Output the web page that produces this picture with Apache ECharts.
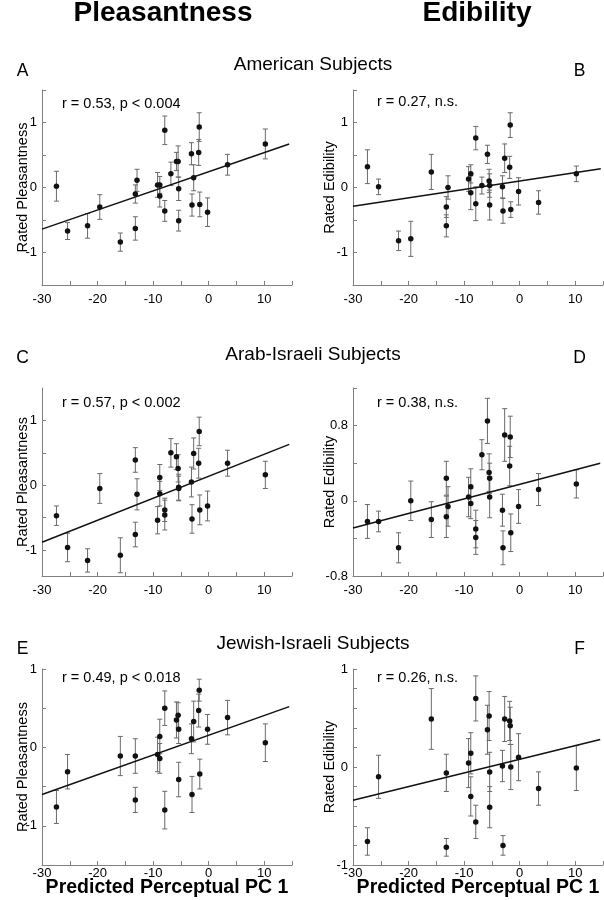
<!DOCTYPE html>
<html><head><meta charset="utf-8">
<script src="https://cdn.jsdelivr.net/npm/echarts@6/dist/echarts.min.js"></script>
<style>html,body{margin:0;padding:0;background:#fff}#c{width:604px;height:900px}</style>
</head><body><div id="c"></div>
<script>
// ---- data ----
const pc1 = [-27.4, -25.4, -21.8, -19.6, -15.9, -13.2, -13.2, -12.9, -9.2, -8.8, -8.8, -7.9, -7.9, -6.8, -5.8, -5.5, -5.4, -5.4, -3.1, -3.0, -2.7, -1.8, -1.7, -1.6, -0.2, 3.4, 10.2];

const pleasAmerican = [0.02, -0.67, -0.59, -0.30, -0.84, -0.63, -0.10, 0.11, 0.04, 0.04, -0.13, 0.88, -0.36, 0.21, 0.40, 0.40, -0.02, -0.51, 0.52, -0.27, 0.15, 0.54, 0.93, -0.26, -0.38, 0.35, 0.67];
const errPleasAmerican = [0.23, 0.13, 0.19, 0.19, 0.14, 0.18, 0.14, 0.17, 0.19, 0.13, 0.17, 0.22, 0.16, 0.18, 0.14, 0.24, 0.18, 0.16, 0.17, 0.17, 0.20, 0.20, 0.22, 0.19, 0.22, 0.16, 0.23];

const edibAmerican = [0.32, 0.01, -0.82, -0.79, 0.24, -0.59, -0.30, 0.00, 0.13, 0.21, -0.08, 0.76, -0.25, 0.03, 0.51, 0.10, 0.03, -0.27, 0.01, -0.36, 0.45, 0.31, 0.96, -0.34, -0.06, -0.23, 0.21];
const errEdibAmerican = [0.26, 0.12, 0.15, 0.27, 0.27, 0.17, 0.16, 0.18, 0.19, 0.14, 0.26, 0.18, 0.26, 0.13, 0.14, 0.18, 0.18, 0.23, 0.17, 0.19, 0.22, 0.17, 0.19, 0.12, 0.21, 0.18, 0.12];

const pleasArab = [-0.47, -0.96, -1.16, -0.05, -1.08, 0.39, -0.76, -0.14, -0.54, 0.12, -0.13, -0.38, -0.46, 0.50, 0.44, 0.26, -0.03, -0.05, 0.05, -0.52, 0.49, 0.34, 0.83, -0.38, -0.32, 0.34, 0.16];
const errPleasArab = [0.15, 0.22, 0.18, 0.23, 0.27, 0.19, 0.19, 0.24, 0.21, 0.20, 0.19, 0.18, 0.23, 0.22, 0.20, 0.21, 0.20, 0.19, 0.23, 0.22, 0.24, 0.23, 0.22, 0.23, 0.23, 0.20, 0.21];

const edibArab = [-0.22, -0.22, -0.50, 0.00, -0.20, 0.24, -0.17, -0.06, 0.04, -0.03, 0.15, -0.30, -0.39, 0.49, 0.85, 0.30, 0.24, 0.04, -0.10, -0.50, 0.70, 0.37, 0.68, -0.34, -0.06, 0.12, 0.18];
const errEdibArab = [0.18, 0.11, 0.16, 0.21, 0.19, 0.18, 0.22, 0.21, 0.21, 0.16, 0.19, 0.20, 0.18, 0.16, 0.24, 0.20, 0.16, 0.22, 0.17, 0.18, 0.28, 0.21, 0.22, 0.20, 0.18, 0.17, 0.15];

const pleasJewish = [-0.76, -0.31, null, null, -0.11, -0.67, -0.11, null, -0.09, 0.14, -0.14, 0.50, -0.80, null, 0.35, 0.41, 0.23, -0.41, 0.11, -0.60, 0.33, 0.47, 0.73, -0.34, 0.23, 0.38, 0.06];
const errPleasJewish = [0.21, 0.22, null, null, 0.25, 0.16, 0.22, null, 0.22, 0.22, 0.19, 0.22, 0.24, null, 0.23, 0.16, 0.18, 0.22, 0.19, 0.23, 0.26, 0.21, 0.14, 0.19, 0.19, 0.22, 0.24];

const edibJewish = [-0.76, -0.10, null, null, 0.49, -0.82, -0.06, null, 0.04, 0.14, -0.30, 0.70, -0.56, null, 0.38, 0.52, -0.05, -0.41, 0.01, -0.80, 0.49, 0.47, 0.42, 0.00, 0.10, -0.22, -0.01];
const errEdibJewish = [0.14, 0.22, null, null, 0.31, 0.09, 0.19, null, 0.25, 0.21, 0.20, 0.23, 0.17, null, 0.25, 0.25, 0.20, 0.21, 0.16, 0.10, 0.23, 0.20, 0.19, 0.23, 0.24, 0.17, 0.23];

// regression line end points [x, y]
const fitA = [[-30, -0.64], [14.5, 0.67]];
const fitB = [[-30, -0.29], [14.6, 0.29]];
const fitC = [[-30, -0.88], [14.5, 0.63]];
const fitD = [[-30, -0.29], [14.5, 0.40]];
const fitE = [[-30, -0.60], [14.5, 0.52]];
const fitF = [[-30, -0.34], [14.5, 0.28]];

const statsText = ['r = 0.53, p < 0.004', 'r = 0.27, n.s.', 'r = 0.57, p < 0.002', 'r = 0.38, n.s.', 'r = 0.49, p < 0.018', 'r = 0.26, n.s.'];
const panelLetters = ['A', 'B', 'C', 'D', 'E', 'F'];
const rowTitles = ['American Subjects', 'Arab-Israeli Subjects', 'Jewish-Israeli Subjects'];
const columnTitles = ['Pleasantness', 'Edibility'];
const yNames = ['Rated Pleasantness', 'Rated Edibility'];
const xName = 'Predicted Perceptual PC 1';

const xTicks = [-30, -25, -20, -15, -10, -5, 0, 5, 10, 15];
const xTickLabels = [-30, -20, -10, 0, 10];
const yTicksA = [-1.5, -1, -0.5, 0, 0.5, 1, 1.5], yLabelsA = [-1, 0, 1];
const yTicksC = [-1, -0.5, 0, 0.5, 1], yLabelsC = [-1, 0, 1];
const yTicksD = [-0.8, -0.4, 0, 0.4, 0.8, 1.2], yLabelsD = [-0.8, 0, 0.8];
const yTicksE = [-1.5, -1, -0.5, 0, 0.5, 1], yLabelsE = [-1, 0, 1];
const yTicksF = [-1, -0.8, -0.6, -0.4, -0.2, 0, 0.2, 0.4, 0.6, 0.8, 1], yLabelsF = [-1, 0, 1];

// ---- panel setup ----
const panels = [
  {y: pleasAmerican, e: errPleasAmerican, fit: fitA, ymin: -1.5, ymax: 1.5, ticks: yTicksA, labels: yLabelsA},
  {y: edibAmerican, e: errEdibAmerican, fit: fitB, ymin: -1.5, ymax: 1.5, ticks: yTicksA, labels: yLabelsA},
  {y: pleasArab, e: errPleasArab, fit: fitC, ymin: -1.4, ymax: 1.5, ticks: yTicksC, labels: yLabelsC},
  {y: edibArab, e: errEdibArab, fit: fitD, ymin: -0.8, ymax: 1.2, ticks: yTicksD, labels: yLabelsD},
  {y: pleasJewish, e: errPleasJewish, fit: fitE, ymin: -1.5, ymax: 1, ticks: yTicksE, labels: yLabelsE},
  {y: edibJewish, e: errEdibJewish, fit: fitF, ymin: -1, ymax: 1, ticks: yTicksF, labels: yLabelsF}
];
const layout = [
  {left: 42, top: 90, height: 195}, {left: 353, top: 90, height: 195},
  {left: 42, top: 388, height: 188}, {left: 353, top: 388, height: 188},
  {left: 42, top: 669, height: 196}, {left: 353, top: 669, height: 196}
];
const FONT = 'Liberation Sans, Arial, Helvetica, sans-serif';
const AX = '#808080';

const grid = [], xAxis = [], yAxis = [], series = [];
panels.forEach((p, i) => {
  const L = layout[i];
  const col = i % 2, row = Math.floor(i / 2);
  grid.push({left: L.left, top: L.top, width: 250, height: L.height, containLabel: false, outerBoundsMode: 'none'});
  xAxis.push({
    type: 'value', gridIndex: i, min: -30, max: 15,
    axisLine: {show: true, onZero: false, lineStyle: {color: AX, width: 1}},
    axisTick: {show: true, inside: true, length: 4, customValues: xTicks, lineStyle: {color: AX}},
    axisLabel: {customValues: xTickLabels, color: '#000', fontSize: 13, fontFamily: FONT, margin: row === 2 ? 2 : 8},
    splitLine: {show: false},
    name: row === 2 ? xName : '', nameLocation: 'middle', nameGap: 13, nameMoveOverlap: false,
    nameTextStyle: {fontSize: 19.5, fontWeight: 'bold', color: '#000', fontFamily: FONT}
  });
  yAxis.push({
    type: 'value', gridIndex: i, min: p.ymin, max: p.ymax,
    axisLine: {show: true, onZero: false, lineStyle: {color: AX, width: 1}},
    axisTick: {show: true, inside: true, length: 4, customValues: p.ticks, lineStyle: {color: AX}},
    axisLabel: {customValues: p.labels, color: '#000', fontSize: 13, fontFamily: FONT, margin: 5},
    splitLine: {show: false},
    name: yNames[col], nameLocation: 'middle', nameRotate: 90, nameGap: col === 0 ? 12 : 16, nameMoveOverlap: false,
    nameTextStyle: {fontSize: 14.5, color: '#000', fontFamily: FONT}
  });
  const pts = [], bars = [];
  pc1.forEach((x, k) => {
    if (p.y[k] == null) return;
    pts.push([x, p.y[k]]);
    bars.push([x, p.y[k] - p.e[k], p.y[k] + p.e[k]]);
  });
  series.push({
    type: 'custom', xAxisIndex: i, yAxisIndex: i, data: bars, encode: {x: 0, y: [1, 2]}, z: 2, silent: true,
    renderItem: (params, api) => {
      const x = api.value(0);
      const a = api.coord([x, api.value(1)]), b = api.coord([x, api.value(2)]);
      const w = 2.5, st = {stroke: '#6a6a6a', lineWidth: 1};
      return {type: 'group', children: [
        {type: 'line', shape: {x1: a[0], y1: a[1], x2: b[0], y2: b[1]}, style: st},
        {type: 'line', shape: {x1: a[0] - w, y1: a[1], x2: a[0] + w, y2: a[1]}, style: st},
        {type: 'line', shape: {x1: b[0] - w, y1: b[1], x2: b[0] + w, y2: b[1]}, style: st}
      ]};
    }
  });
  series.push({
    type: 'line', xAxisIndex: i, yAxisIndex: i, data: p.fit, showSymbol: false, symbol: 'none', z: 3, silent: true,
    lineStyle: {color: '#111', width: 1.5}, animation: false
  });
  series.push({
    type: 'scatter', xAxisIndex: i, yAxisIndex: i, data: pts, symbolSize: 5.5, z: 4, silent: true,
    itemStyle: {color: '#111', opacity: 1}
  });
});

const graphic = [];
const txt = (x, y, t, size, opts = {}) => graphic.push({
  type: 'text', x, y, silent: true,
  style: Object.assign({text: t, fontSize: size, fontFamily: FONT, fill: '#000', align: 'center', verticalAlign: 'middle'}, opts)
});
txt(163, 13, columnTitles[0], 28, {fontWeight: 'bold'});
txt(477, 13, columnTitles[1], 28, {fontWeight: 'bold'});
const rowY = [65, 355, 643.5];
const letterY = [71, 358, 649];
rowTitles.forEach((t, r) => {
  txt(313, rowY[r], t, 19);
  txt(22.5, letterY[r], panelLetters[2 * r], 17.5);
  txt(579.5, letterY[r], panelLetters[2 * r + 1], 17.5);
});
const statPos = [[62, 104], [377, 102], [62, 403], [377, 403], [62, 678], [377, 678]];
statsText.forEach((t, i) => txt(statPos[i][0], statPos[i][1], t, 14.5, {align: 'left'}));

const chart = echarts.init(document.getElementById('c'), null, {renderer: 'canvas'});
chart.setOption({backgroundColor: '#fff', animation: false, grid, xAxis, yAxis, series, graphic});
</script></body></html>
